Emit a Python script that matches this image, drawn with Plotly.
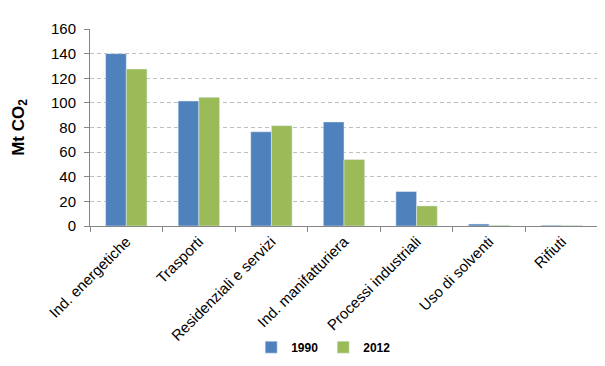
import plotly.graph_objects as go

categories = ["Ind. energetiche", "Trasporti", "Residenziali e servizi",
              "Ind. manifatturiera", "Processi industriali", "Uso di solventi", "Rifiuti"]
values_1990 = [140, 101.5, 76.5, 84.5, 28, 1.6, 0.6]
values_2012 = [127.5, 104.5, 81.5, 54, 16.3, 0.6, 0.5]
y_ticks = [0, 20, 40, 60, 80, 100, 120, 140, 160]

fig = go.Figure()
fig.add_trace(go.Bar(x=categories, y=values_1990, name="1990", marker_color="#4F81BD"))
fig.add_trace(go.Bar(x=categories, y=values_2012, name="2012", marker_color="#9BBB59"))

font_family = "Liberation Sans, Arial, sans-serif"
fig.update_layout(
    width=605, height=366,
    margin=dict(l=82, r=15, t=21, b=142),
    paper_bgcolor="white", plot_bgcolor="white",
    barmode="group", bargap=0.43, bargroupgap=0,
    font=dict(family=font_family, size=14, color="#000000"),
    showlegend=True,
    legend=dict(orientation="h", x=0.46, xanchor="center", y=-0.615, yanchor="middle",
                font=dict(size=12, family=font_family, weight="bold"),
                itemwidth=30, traceorder="normal"),
)
fig.update_xaxes(
    tickangle=-45, showline=True, linecolor="#868686", linewidth=1,
    ticks="outside", tickson="boundaries", ticklen=5, tickcolor="#868686",
    showgrid=False, tickfont=dict(size=15), automargin=False,
)
fig.update_yaxes(
    range=[0, 160], tickvals=y_ticks, showline=True, linecolor="#868686", linewidth=1,
    ticks="outside", ticklen=5, tickcolor="#868686", ticklabelstandoff=5,
    showgrid=True, gridcolor="#BFBFBF", griddash="4px,3px", gridwidth=1,
    zeroline=False, tickfont=dict(size=15), automargin=False,
    title=dict(text="<b>Mt CO<sub>2</sub></b>", font=dict(size=17), standoff=22),
)
fig.write_html("out.html")
